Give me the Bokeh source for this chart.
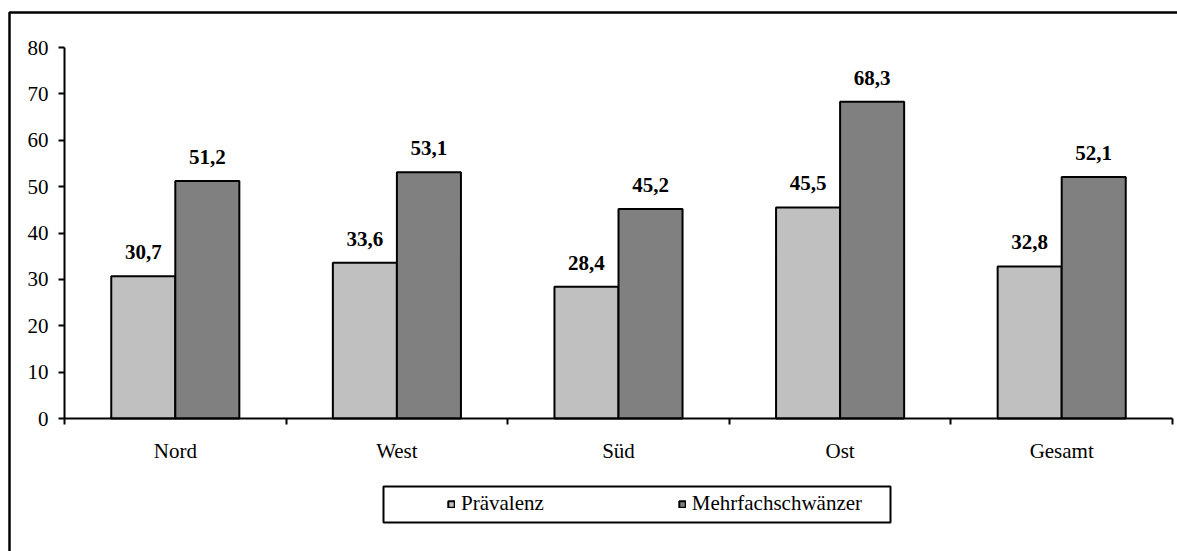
import numpy as np
from bokeh.plotting import figure
from bokeh.models import (Range1d, FixedTicker, LinearAxis, ColumnDataSource,
                          LabelSet, Legend, LegendItem, BoxAnnotation)
from bokeh.core.properties import value
from bokeh.embed import file_html
from bokeh.resources import INLINE

# ---- data ----
categories = ["Nord", "West", "Süd", "Ost", "Gesamt"]
praevalenz = [30.7, 33.6, 28.4, 45.5, 32.8]
mehrfach = [51.2, 53.1, 45.2, 68.3, 52.1]
series_names = ["Prävalenz", "Mehrfachschwänzer"]
y_ticks = [0, 10, 20, 30, 40, 50, 60, 70, 80]

FONT = "Liberation Serif"
LIGHT = "#C0C0C0"
DARK = "#808080"
W, H = 1177, 551
BW = 0.289

n = len(categories)
centers = [i + 0.5 for i in range(n)]
bounds = [float(i) for i in range(n + 1)]

# pixel geometry of the plot area inside the whole canvas
PX_LEFT, PX_RIGHT = 64, 1172      # x of category 0 .. n
PX_TOP, PX_ZERO = 47, 418         # y of value 80 and value 0
ux = (PX_RIGHT - PX_LEFT) / n
uy = (PX_ZERO - PX_TOP) / y_ticks[-1]
x_range = Range1d(-PX_LEFT / ux, n + (W - PX_RIGHT) / ux)
y_range = Range1d(-(H - PX_ZERO) / uy, y_ticks[-1] + PX_TOP / uy)

def fmt(v):
    return f"{v:.1f}".replace(".", ",")

src = ColumnDataSource(dict(
    xl=[c - BW / 2 for c in centers],
    xr=[c + BW / 2 for c in centers],
    prae=praevalenz,
    mehr=mehrfach,
    prae_lbl=[fmt(v) for v in praevalenz],
    mehr_lbl=[fmt(v) for v in mehrfach],
))

p = figure(width=W, height=H, x_range=x_range, y_range=y_range,
           output_backend="svg", toolbar_location=None,
           x_axis_type=None, y_axis_type=None,
           min_border_left=0, min_border_right=0, min_border_top=0, min_border_bottom=0)
p.outline_line_color = None
p.background_fill_color = "white"
p.border_fill_color = "white"

# y axis
yaxis = LinearAxis(ticker=FixedTicker(ticks=y_ticks, minor_ticks=[]),
                   fixed_location=0, bounds=(y_ticks[0], y_ticks[-1]))
yaxis.axis_line_width = 2
yaxis.major_tick_line_width = 2
yaxis.major_tick_out = 6
yaxis.major_tick_in = 0
yaxis.minor_tick_line_color = None
yaxis.major_label_standoff = 10
yaxis.major_label_text_font = FONT
yaxis.major_label_text_font_size = "21px"
yaxis.major_label_text_color = "black"
p.add_layout(yaxis, "left")

# x axis: labels at category centres, ticks at category boundaries
xaxis = LinearAxis(ticker=FixedTicker(ticks=centers, minor_ticks=bounds),
                   fixed_location=0, bounds=(0, n))
xaxis.major_label_overrides = {c: name for c, name in zip(centers, categories)}
xaxis.axis_line_width = 2
xaxis.major_tick_line_color = None
xaxis.major_tick_out = 0
xaxis.major_tick_in = 0
xaxis.minor_tick_line_width = 2
xaxis.minor_tick_out = 6
xaxis.minor_tick_in = 0
xaxis.major_label_standoff = 14
xaxis.major_label_text_font = FONT
xaxis.major_label_text_font_size = "21px"
xaxis.major_label_text_color = "black"
p.add_layout(xaxis, "below")

r1 = p.vbar(x="xl", top="prae", width=BW, source=src, fill_color=LIGHT,
            line_color="black", line_width=2)
r2 = p.vbar(x="xr", top="mehr", width=BW, source=src, fill_color=DARK,
            line_color="black", line_width=2)

for xcol, ycol, tcol in (("xl", "prae", "prae_lbl"), ("xr", "mehr", "mehr_lbl")):
    p.add_layout(LabelSet(x=xcol, y=ycol, text=tcol, source=src,
                          text_align="center", text_baseline="alphabetic", y_offset=17,
                          text_font=value(FONT), text_font_style="bold",
                          text_font_size="21px", text_color="black"))

# screen-unit boxes (y measured from the bottom of the canvas)
def box(left, right, top, bottom, lw):
    return BoxAnnotation(left=left, right=right, top=H - top, bottom=H - bottom,
                         left_units="screen", right_units="screen",
                         top_units="screen", bottom_units="screen",
                         fill_alpha=0, line_color="black", line_alpha=1, line_width=lw)

# outer frame (only top/left visible in the crop)
p.add_layout(box(9, W + 50, 12, H + 50, 2.5))
# legend box
p.add_layout(box(383, 890, 486, 522, 2))

legend = Legend(items=[LegendItem(label=series_names[0], renderers=[r1]),
                       LegendItem(label=series_names[1], renderers=[r2])],
                orientation="horizontal", location=(447, 551 - 516),
                border_line_color=None, background_fill_alpha=0,
                padding=0, margin=0, spacing=134,
                glyph_width=8, glyph_height=8, label_standoff=6,
                label_text_font_size="21px", label_text_color="black")
try:
    legend.label_text_font = value(FONT)
except Exception:
    legend.label_text_font = FONT
p.add_layout(legend, "center")

open("out.html", "w").write(file_html(p, INLINE))
